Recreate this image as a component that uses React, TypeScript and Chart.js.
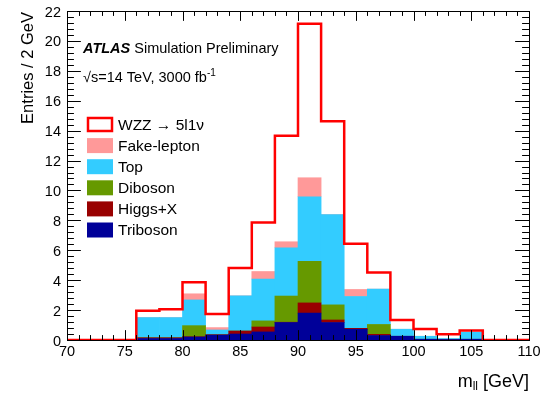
import React, { useEffect, useRef } from "react";
import { Chart, registerables } from "chart.js";

Chart.register(...registerables);

// Bin lower edges (GeV), 2 GeV bins from 70 to 110
const binLow = [70, 72, 74, 76, 78, 80, 82, 84, 86, 88, 90, 92, 94, 96, 98, 100, 102, 104, 106, 108];
const binWidth = 2;

// Stacked backgrounds (bottom to top)
const triboson = [0, 0, 0, 0.1, 0.1, 0.2, 0.33, 0.4, 0.54, 1.17, 1.8, 1.17, 0.72, 0.3, 0.25, 0.05, 0.03, 0.05, 0, 0];
const higgsX = [0, 0, 0, 0.05, 0.05, 0.02, 0.02, 0.2, 0.33, 0.02, 0.68, 0.17, 0.06, 0.08, 0, 0, 0, 0, 0, 0];
const diboson = [0, 0, 0, 0, 0, 0.74, 0, 0, 0.41, 1.75, 2.78, 1.01, 0, 0.66, 0, 0, 0, 0, 0, 0];
const top = [0, 0, 0, 1.35, 1.35, 1.72, 0.32, 2.35, 2.8, 3.23, 4.32, 6.04, 2.13, 2.36, 0.47, 0.2, 0.07, 0.47, 0, 0];
const fakeLepton = [0, 0, 0, 0, 0, 0.41, 0.16, 0, 0.5, 0.4, 1.27, 0, 0.47, 0, 0, 0, 0, 0, 0, 0];
// Signal, stacked on top of the backgrounds
const wzz = [0, 0, 0, 0.45, 0.56, 0.78, 0.91, 1.86, 3.27, 7.09, 10.29, 6.24, 3.05, 1.12, 0.62, 0.49, 0.28, 0.11, 0, 0];

const xTickLabels = [70, 75, 80, 85, 90, 95, 100, 105, 110];
const yTickLabels = [0, 2, 4, 6, 8, 10, 12, 14, 16, 18, 20, 22];

const legendNames = ["WZZ \u2192 5l1\u03bd", "Fake-lepton", "Top", "Diboson", "Higgs+X", "Triboson"];

const COLORS = {
  wzz: "#ff0000",
  fake: "#ff9999",
  top: "#33ccff",
  dib: "#669900",
  higgs: "#990000",
  tri: "#000099",
};

const FONT = "'Liberation Sans', Arial, Helvetica, sans-serif";

const drawPlugin = {
  id: "rootStyle",
  afterDatasetsDraw(chart: any) {
    const { ctx, chartArea: a, scales } = chart;
    const x = scales.x;
    const y = scales.y;
    ctx.save();
    ctx.strokeStyle = "#000";
    ctx.lineWidth = 1;
    // frame
    ctx.strokeRect(Math.round(a.left) + 0.5, Math.round(a.top) + 0.5, Math.round(a.right - a.left), Math.round(a.bottom - a.top));

    const w = a.right - a.left;
    const h = a.bottom - a.top;
    const yMajLen = 0.03 * w;
    const xMajLen = 0.03 * h;

    // y ticks (left & right)
    const yMin = y.min, yMax = y.max;
    ctx.beginPath();
    for (let k = 0; k <= Math.round((yMax - yMin) / 0.4); k++) {
      const v = yMin + k * 0.4;
      const major = k % 5 === 0;
      const py = Math.round(y.getPixelForValue(v)) + 0.5;
      const len = major ? yMajLen : yMajLen / 2;
      ctx.moveTo(a.left, py);
      ctx.lineTo(a.left + len, py);
      ctx.moveTo(a.right, py);
      ctx.lineTo(a.right - len, py);
    }
    // x ticks (bottom & top)
    for (let v = x.min; v <= x.max + 1e-6; v += 1) {
      const major = Math.round(v) % 5 === 0;
      const px = Math.round(x.getPixelForValue(v)) + 0.5;
      const len = major ? xMajLen : xMajLen / 2;
      ctx.moveTo(px, a.bottom);
      ctx.lineTo(px, a.bottom - len);
      ctx.moveTo(px, a.top);
      ctx.lineTo(px, a.top + len);
    }
    ctx.stroke();

    // tick labels
    ctx.fillStyle = "#000";
    ctx.font = `14.5px ${FONT}`;
    ctx.textAlign = "right";
    ctx.textBaseline = "middle";
    yTickLabels.forEach((v) => {
      ctx.fillText(String(v), a.left - 6, y.getPixelForValue(v) + 1.5);
    });
    ctx.textAlign = "center";
    ctx.textBaseline = "alphabetic";
    xTickLabels.forEach((v) => {
      ctx.fillText(String(v), x.getPixelForValue(v), a.bottom + 15.5);
    });

    // y title
    ctx.save();
    ctx.translate(33, a.top + 1);
    ctx.rotate(-Math.PI / 2);
    ctx.font = `16.5px ${FONT}`;
    ctx.textAlign = "right";
    ctx.textBaseline = "alphabetic";
    ctx.fillText("Entries / 2 GeV", 0, 0);
    ctx.restore();

    // x title: m_ll [GeV], right aligned at frame right
    ctx.font = `18px ${FONT}`;
    const rest = " [GeV]";
    const restW = ctx.measureText(rest).width;
    const mW = ctx.measureText("m").width;
    ctx.font = `12px ${FONT}`;
    const subW = ctx.measureText("ll").width;
    const xEnd = a.right;
    const baseY = 387;
    ctx.textAlign = "left";
    ctx.font = `18px ${FONT}`;
    const x0 = xEnd - restW - subW - mW;
    ctx.fillText("m", x0, baseY);
    ctx.font = `12px ${FONT}`;
    ctx.fillText("ll", x0 + mW, baseY + 3);
    ctx.font = `18px ${FONT}`;
    ctx.fillText(rest, x0 + mW + subW, baseY);

    // ATLAS label
    ctx.font = `italic bold 14.5px ${FONT}`;
    ctx.fillText("ATLAS", 83, 53);
    const aw = ctx.measureText("ATLAS").width;
    ctx.font = `14.5px ${FONT}`;
    ctx.fillText(" Simulation Preliminary", 83 + aw, 53);

    ctx.font = `14.5px ${FONT}`;
    const s1 = "\u221As=14 TeV, 3000 fb";
    ctx.fillText(s1, 83, 82);
    const s1w = ctx.measureText(s1).width;
    ctx.font = `10px ${FONT}`;
    ctx.fillText("-1", 83 + s1w, 76);

    // legend
    const fills = [null, COLORS.fake, COLORS.top, COLORS.dib, COLORS.higgs, COLORS.tri];
    const bx = 87, bw = 26, bh = 15;
    legendNames.forEach((name, i) => {
      const cy = 124.5 + i * 21.1;
      if (i === 0) {
        ctx.fillStyle = "#fff";
        ctx.fillRect(bx, cy - bh / 2, bw, bh);
        ctx.strokeStyle = COLORS.wzz;
        ctx.lineWidth = 2.5;
        ctx.strokeRect(bx + 1, cy - bh / 2 + 1, bw - 2, bh - 2);
      } else {
        ctx.fillStyle = fills[i] as string;
        ctx.fillRect(bx, cy - bh / 2, bw, bh);
      }
      ctx.fillStyle = "#000";
      ctx.font = `15.5px ${FONT}`;
      ctx.textBaseline = "middle";
      ctx.fillText(name, 118, cy + 1);
      ctx.textBaseline = "alphabetic";
    });

    ctx.restore();
  },
};

export default function App() {
  const ref = useRef<HTMLCanvasElement | null>(null);

  useEffect(() => {
    if (!ref.current) return;
    const centers = binLow.map((b) => b + binWidth / 2);
    const pts = (arr: number[]) => arr.map((v, i) => ({ x: centers[i], y: v }));
    const total = binLow.map(
      (_, i) => triboson[i] + higgsX[i] + diboson[i] + top[i] + fakeLepton[i] + wzz[i]
    );
    const linePts = binLow.map((b, i) => ({ x: b, y: total[i] }));
    linePts.push({ x: binLow[binLow.length - 1] + binWidth, y: total[total.length - 1] });

    const barDs = (label: string, data: number[], color: string) => ({
      type: "bar" as const,
      label,
      data: pts(data),
      backgroundColor: color,
      borderWidth: 0,
      barPercentage: 1,
      categoryPercentage: 1,
      stack: "bkg",
      order: 2,
    });

    const chart = new Chart(ref.current, {
      type: "bar",
      data: {
        datasets: [
          {
            type: "line" as const,
            label: "WZZ",
            data: linePts,
            borderColor: COLORS.wzz,
            borderWidth: 2.5,
            pointRadius: 0,
            fill: false,
            stepped: "before",
            stack: "sig",
            order: 1,
          } as any,
          barDs("Triboson", triboson, COLORS.tri),
          barDs("Higgs+X", higgsX, COLORS.higgs),
          barDs("Diboson", diboson, COLORS.dib),
          barDs("Top", top, COLORS.top),
          barDs("Fake-lepton", fakeLepton, COLORS.fake),
        ],
      },
      options: {
        responsive: false,
        animation: false,
        layout: { padding: { left: 67, top: 11, right: 13, bottom: 56 } },
        plugins: { legend: { display: false }, tooltip: { enabled: false } },
        scales: {
          x: {
            type: "linear",
            min: 70,
            max: 110,
            offset: false,
            display: false,
            grid: { offset: false },
            ticks: { stepSize: 5 },
          },
          y: {
            min: 0,
            max: 22,
            stacked: true,
            display: false,
          },
        },
      },
      plugins: [drawPlugin],
    });
    return () => chart.destroy();
  }, []);

  return (
    <div style={{ position: "fixed", left: 0, top: 0, width: 542, height: 396, background: "#fff" }}>
      <canvas ref={ref} width={542} height={396} style={{ display: "block" }} />
    </div>
  );
}
